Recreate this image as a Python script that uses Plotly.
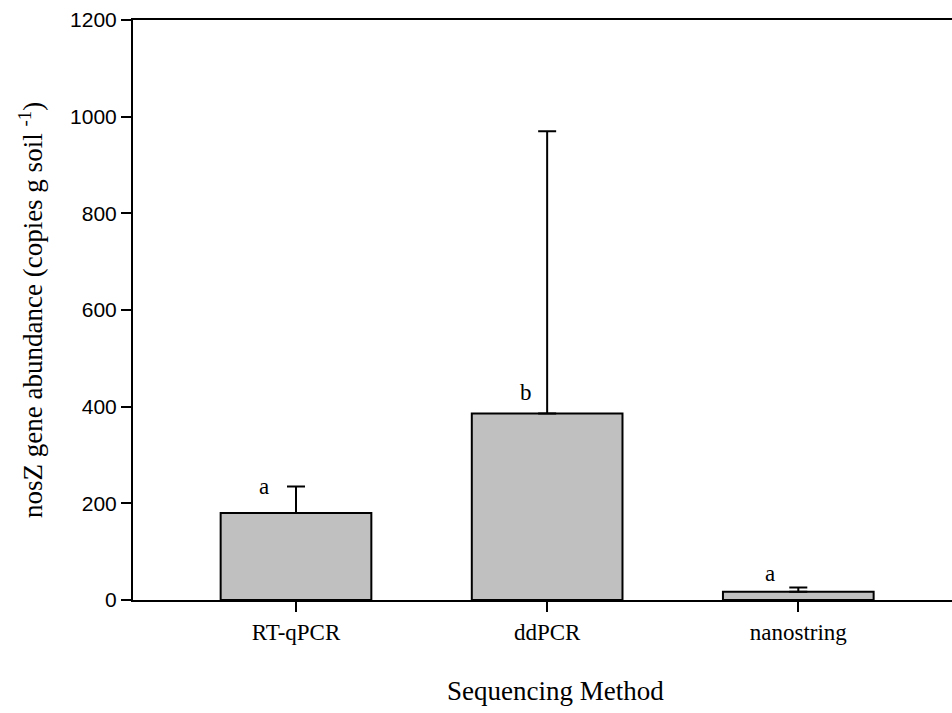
import plotly.graph_objects as go

categories = ["RT-qPCR", "ddPCR", "nanostring"]
means = [180, 386, 17]
errors_plus = [55, 584, 9]
letters = ["a", "b", "a"]
y_ticks = [0, 200, 400, 600, 800, 1000, 1200]

x_pos = list(range(len(categories)))

fig = go.Figure()
fig.add_trace(go.Bar(
    x=x_pos, y=means, width=0.6,
    marker=dict(color="#c0c0c0", line=dict(color="black", width=2)),
    error_y=dict(type="data", symmetric=False, array=errors_plus,
                 arrayminus=[0] * len(means), color="black", thickness=2, width=9),
    showlegend=False, hoverinfo="skip",
))

# significance letters
letter_anchor = [means[0] + errors_plus[0], means[1], means[2] + errors_plus[2]]
shifts = [(-32, 0), (-21, 21), (-28, 14)]
for i, (lt, ya, (dx, dy)) in enumerate(zip(letters, letter_anchor, shifts)):
    fig.add_annotation(x=i, y=ya, text=lt, showarrow=False, xshift=dx, yshift=dy,
                       font=dict(family="Liberation Serif", size=23, color="black"),
                       xanchor="center", yanchor="middle")

PL = 133
PW = 819
fig.add_annotation(xref="paper", yref="paper", x=(555 - PL) / PW, y=(600 - 691) / 580,
                   text="Sequencing Method", showarrow=False, xanchor="center", yanchor="middle",
                   font=dict(family="Liberation Serif", size=27, color="black"))
fig.add_annotation(xref="paper", yref="paper", x=(31 - PL) / PW, y=0.5,
                   text="nosZ gene abundance (copies g soil <sup>-1</sup>)", textangle=-90,
                   showarrow=False, xanchor="center", yanchor="middle",
                   font=dict(family="Liberation Serif", size=27, color="black"))

fig.update_layout(
    width=952, height=713,
    margin=dict(l=PL, r=0, t=20, b=113),
    plot_bgcolor="white", paper_bgcolor="white",
    xaxis=dict(range=[-0.649, 2.612], tickmode="array", tickvals=x_pos, ticktext=categories,
               showline=True, linecolor="black", linewidth=2, mirror=True,
               ticks="outside", ticklen=10, tickwidth=2, tickcolor="black",
               showgrid=False, zeroline=False,
               tickfont=dict(family="Liberation Serif", size=23, color="black")),
    yaxis=dict(range=[0, 1200], tickmode="array", tickvals=y_ticks,
               showline=True, linecolor="black", linewidth=2, mirror=False,
               ticks="outside", ticklen=10, tickwidth=2, tickcolor="black",
               showgrid=False, zeroline=False,
               tickfont=dict(family="Liberation Sans", size=21, color="black")),
)

fig.write_html("out.html", config={"displayModeBar": False},
               post_script="document.body.style.margin='0';document.body.style.overflow='hidden';")
